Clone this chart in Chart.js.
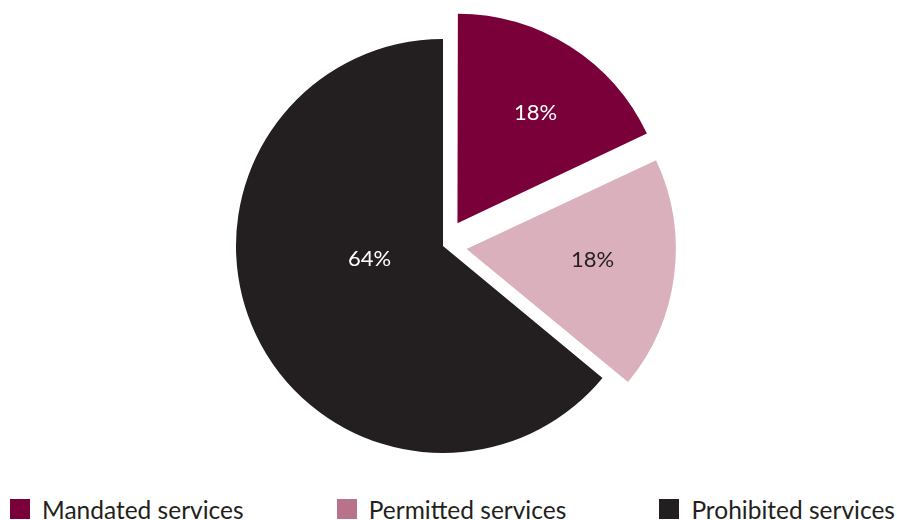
<!DOCTYPE html>
<html>
<head>
<meta charset="utf-8">
<script src="https://cdn.jsdelivr.net/npm/chart.js@4/dist/chart.umd.min.js"></script>
<style>
  html, body { margin: 0; padding: 0; background: #fff; }
  #wrap { position: relative; width: 897px; height: 520px; overflow: hidden; }
  #chartBox { position: absolute; left: 0; top: 0; width: 897px; height: 492px; }
  #legend {
    position: absolute; left: 10px; right: 2px; top: 497px; height: 24px;
    display: flex; justify-content: space-between; align-items: center;
    font-family: Lato, sans-serif; font-size: 24.5px; color: #231f20;
  }
  #legend .item { display: flex; align-items: center; white-space: nowrap; }
  #legend .box { width: 20px; height: 20px; margin-right: 12px; }
</style>
</head>
<body>
<div id="wrap">
  <div id="chartBox"><canvas id="pie"></canvas></div>
  <div id="legend"></div>
</div>
<script>
// shares of services
var categories = ['Mandated services', 'Permitted services', 'Prohibited services'];
var shares = [18, 18, 64];
var pctLabels = ['18%', '18%', '64%'];

var sliceColors = ['#7a0039', '#d9b0bb', '#231f20'];
var legendColors = ['#7a0039', '#b8728a', '#231f20'];
var labelColors = ['#ffffff', '#231f20', '#ffffff'];
var sliceOffsets = [108, 95, 0];

// where each label sits: fraction of radius, turn off the mid angle (deg)
var labelDist = [0.64, 0.6, 0.36];
var labelTurn = [3, -2.5, 15.5];

// labels drawn inside the slices, following the slice offset
var sliceLabels = {
  id: 'sliceLabels',
  afterDatasetsDraw(chart) {
    var c = chart.ctx;
    var arcs = chart.getDatasetMeta(0).data;
    c.save();
    c.font = '22px Lato, sans-serif';
    c.textAlign = 'center';
    c.textBaseline = 'middle';
    arcs.forEach(function(arc, i) {
      var p = arc.getProps(['x', 'y', 'startAngle', 'endAngle', 'outerRadius', 'circumference']);
      var mid = (p.startAngle + p.endAngle) / 2;
      var off = (sliceOffsets[i] || 0) / 4;
      var fix = 1 - Math.sin(Math.min(Math.PI, p.circumference));
      var shift = off * (1 + fix);
      var a = mid + labelTurn[i] * Math.PI / 180;
      var r = p.outerRadius * labelDist[i];
      var x = p.x + Math.cos(mid) * shift + Math.cos(a) * r;
      var y = p.y + Math.sin(mid) * shift + Math.sin(a) * r;
      c.fillStyle = labelColors[i];
      c.fillText(pctLabels[i], x, y);
    });
    c.restore();
  }
};

var ctx = document.getElementById('pie').getContext('2d');
var myChart = new Chart(ctx, {
  type: 'pie',
  data: {
    labels: categories,
    datasets: [{
      data: shares,
      backgroundColor: sliceColors,
      borderWidth: 0,
      offset: sliceOffsets,
      radius: 207
    }]
  },
  options: {
    animation: false,
    responsive: true,
    maintainAspectRatio: false,
    layout: { padding: { left: 0, right: 11, top: 0, bottom: 0 } },
    plugins: {
      legend: { display: false },
      tooltip: { enabled: false }
    }
  },
  plugins: [sliceLabels]
});

// legend row under the pie
var legendEl = document.getElementById('legend');
categories.forEach(function(name, i) {
  var item = document.createElement('div');
  item.className = 'item';
  var box = document.createElement('span');
  box.className = 'box';
  box.style.background = legendColors[i];
  var txt = document.createElement('span');
  txt.textContent = name;
  item.appendChild(box);
  item.appendChild(txt);
  legendEl.appendChild(item);
});
</script>
</body>
</html>
